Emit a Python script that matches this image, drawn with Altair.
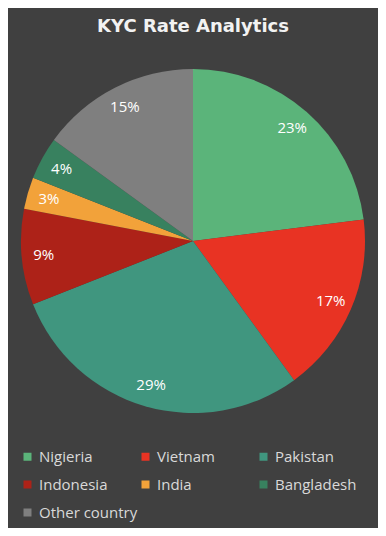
import altair as alt
import pandas as pd

countries = ["Nigieria", "Vietnam", "Pakistan", "Indonesia", "India", "Bangladesh", "Other country"]
shares = [23, 17, 29, 9, 3, 4, 15]
colors = ["#5bb47a", "#e83323", "#40967f", "#ad2218", "#f2a23a", "#38815f", "#7f7f7f"]

df = pd.DataFrame({
    "country": countries,
    "share": shares,
    "idx": list(range(len(countries))),
    "label": [f"{s}%" for s in shares],
})

FONT = "Open Sans"

base = alt.Chart(df).encode(
    theta=alt.Theta("share:Q", stack=True),
    order=alt.Order("idx:Q"),
)

pie = base.mark_arc(radius=172).encode(
    x=alt.value(185),
    y=alt.value(198),
    color=alt.Color(
        "country:N",
        sort=None,
        scale=alt.Scale(domain=countries, range=colors),
        legend=alt.Legend(
            title=None,
            orient="none",
            legendX=12,
            legendY=406,
            direction="horizontal",
            columns=3,
            gridAlign="all",
            columnPadding=-3,
            rowPadding=12,
            symbolType="square",
            symbolSize=64,
            symbolStrokeWidth=0,
            labelOffset=4,
            labelFont=FONT,
            labelFontSize=15,
            labelColor="#d9d9d9",
            labelLimit=200,
        ),
    ),
)

text = base.mark_text(radius=150, font=FONT, fontSize=15, color="#ffffff").encode(
    x=alt.value(185),
    y=alt.value(198),
    text="label:N",
)

chart = (
    alt.layer(pie, text)
    .properties(
        width=370,
        height=485,
        autosize=alt.AutoSizeParams(type="none"),
        padding={"left": 0, "top": 35, "right": 0, "bottom": 0},
        background="#404040",
        title=alt.TitleParams(
            "KYC Rate Analytics",
            font="DejaVu Sans",
            fontSize=18,
            fontWeight="bold",
            color="#f2f2f2",
            anchor="middle",
            offset=7,
        ),
    )
    .configure_view(stroke=None)
)

chart.save("out.html", embed_options={"renderer": "svg", "actions": False})
